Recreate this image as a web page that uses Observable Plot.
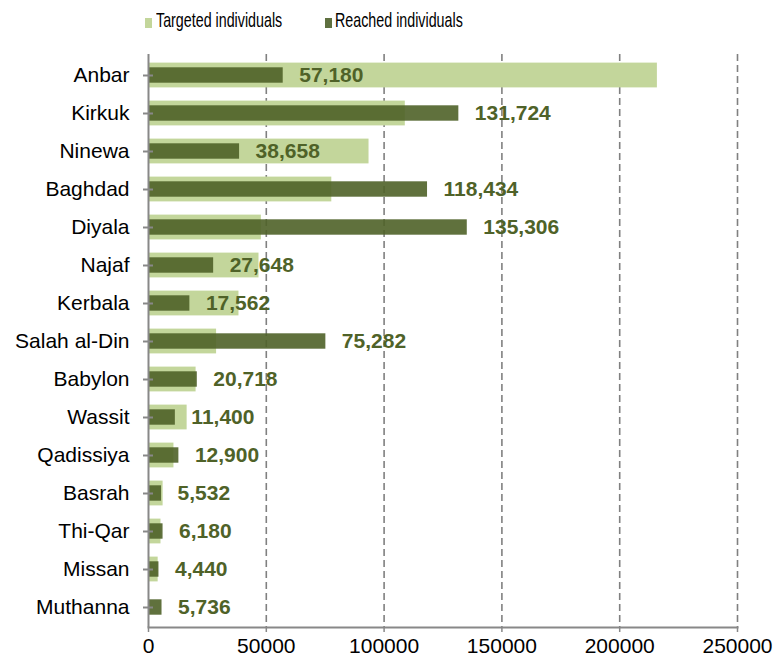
<!DOCTYPE html>
<html>
<head>
<meta charset="utf-8">
<script src="https://cdn.jsdelivr.net/npm/d3@7"></script>
<script src="https://cdn.jsdelivr.net/npm/@observablehq/plot@0.6"></script>
<style>
  html, body { margin: 0; padding: 0; background: #fff; }
  body { width: 773px; height: 661px; overflow: hidden; font-family: "Liberation Sans", Arial, sans-serif; }
  #legend { position: relative; height: 40px; width: 773px; }
  .sw { position: absolute; top: 18px; width: 7px; height: 10px; }
  .lt { position: absolute; top: 8px; font-size: 21px; line-height: 24px; color: #000; transform: scaleX(0.68); transform-origin: left center; white-space: nowrap; }
</style>
</head>
<body>
<div id="legend"></div>
<div id="chart"></div>
<script>
const regions = ["Anbar","Kirkuk","Ninewa","Baghdad","Diyala","Najaf","Kerbala","Salah al-Din","Babylon","Wassit","Qadissiya","Basrah","Thi-Qar","Missan","Muthanna"];
const reached = [57180,131724,38658,118434,135306,27648,17562,75282,20718,11400,12900,5532,6180,4440,5736];
const targeted = [216000,109000,93600,77800,47900,46900,38400,28900,20200,16400,10800,6200,5300,4100,0];
const xTicks = [0,50000,100000,150000,200000,250000];
const seriesNames = ["Targeted individuals","Reached individuals"];
const colors = ["#c3d69b","#4f6228"];

const data = regions.map((r,i) => ({region: r, targeted: targeted[i], reached: reached[i]}));

// Legend
const legend = document.getElementById("legend");
const legendPos = [[145,156],[325,335]];
seriesNames.forEach((name,i) => {
  const sw = document.createElement("div");
  sw.className = "sw"; sw.style.left = legendPos[i][0] + "px"; sw.style.background = i === 1 ? "#5f7040" : colors[i];
  legend.appendChild(sw);
  const t = document.createElement("div");
  t.className = "lt"; t.style.left = legendPos[i][1] + "px"; t.textContent = name;
  legend.appendChild(t);
});

const chart = Plot.plot({
  width: 773,
  height: 621,
  marginTop: 14,
  marginBottom: 34,
  marginLeft: 148,
  marginRight: 36,
  style: {fontFamily: "'Liberation Sans', Arial, sans-serif", fontSize: "21px", color: "#000", background: "#fff", overflow: "visible"},
  x: {domain: [0, 250000], ticks: xTicks},
  y: {domain: regions, padding: 0},
  marks: [
    Plot.gridX(xTicks.slice(1), {stroke: "#808080", strokeOpacity: 1, strokeWidth: 1.6, strokeDasharray: "7,4"}),
    Plot.barX(data, {x: "targeted", y: "region", fill: colors[0], insetTop: 6.6, insetBottom: 6.6}),
    Plot.barX(data, {x: "reached", y: "region", fill: colors[1], fillOpacity: 0.9, insetTop: 11.3, insetBottom: 11.3}),
    Plot.text(data, {x: "reached", y: "region", text: d => d3.format(",")(d.reached), dx: 16, textAnchor: "start", fill: "#4f6228", fontWeight: "bold", fontSize: 21}),
    Plot.ruleX([0], {stroke: "#888", strokeWidth: 2}),
    Plot.frame({anchor: "bottom", stroke: "#888", strokeWidth: 2}),
    Plot.axisY({tickSize: 5, tickPadding: 14, stroke: "#888", strokeWidth: 2, fill: "#000", fontSize: 21, label: null}),
    Plot.axisY({tickSize: -5, tickFormat: () => "", stroke: "#888", strokeWidth: 2, label: null}),
    Plot.axisX({ticks: xTicks, tickSize: 5, tickPadding: 6, tickFormat: d => String(d), stroke: "#888", strokeWidth: 1.5, fill: "#000", fontSize: 21, label: null})
  ]
});
document.getElementById("chart").appendChild(chart);
</script>
</body>
</html>
